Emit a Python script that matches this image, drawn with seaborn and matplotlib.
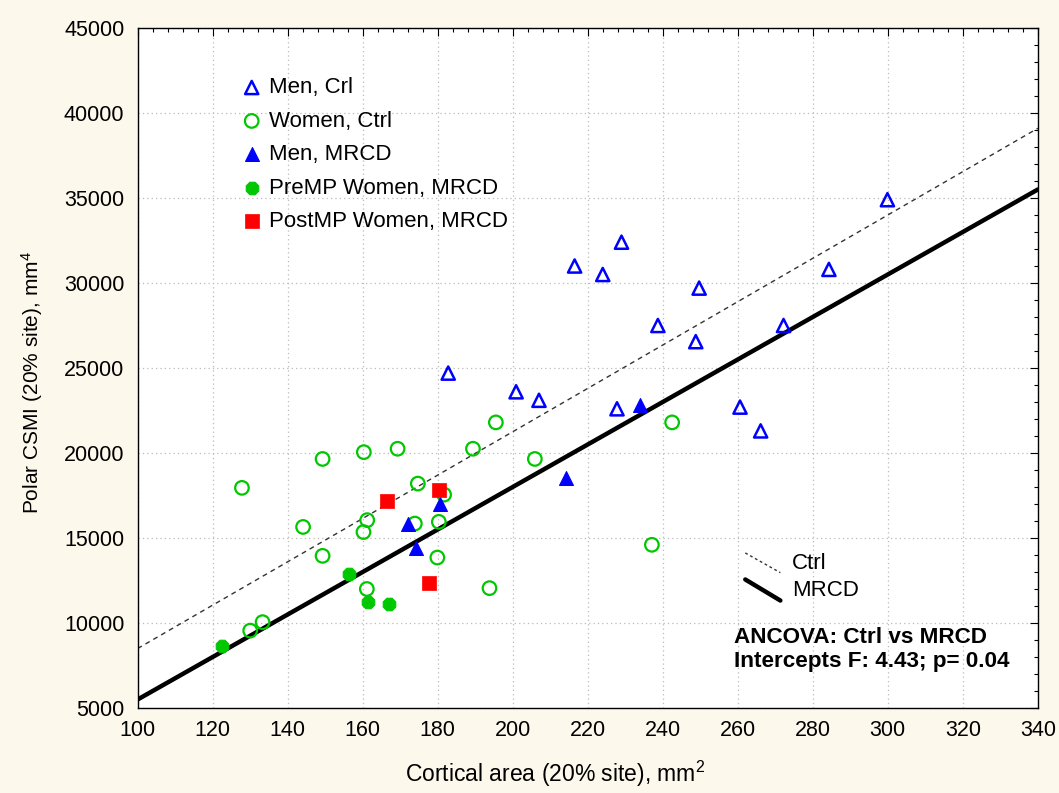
import numpy as np
import pandas as pd
import matplotlib
matplotlib.use("Agg")
import matplotlib.pyplot as plt
from matplotlib.ticker import MultipleLocator
import seaborn as sns

# ---- data ----
men_ctrl_x = [182.8, 200.9, 207.0, 227.8, 229.0, 216.5, 224.0, 249.7, 238.7, 248.8,
              299.9, 284.3, 272.2, 260.6, 266.1]
men_ctrl_y = [24700, 23600, 23100, 22600, 32400, 31000, 30500, 29700, 27500, 26550,
              34900, 30800, 27500, 22700, 21300]

women_ctrl_x = [127.8, 149.3, 144.1, 149.3, 130.0, 133.3, 160.3, 169.3, 189.4, 195.5,
                174.7, 181.7, 161.2, 160.2, 173.9, 180.3, 179.9, 193.8, 161.1, 205.9,
                242.5, 237.1]
women_ctrl_y = [17950, 19650, 15650, 13950, 9550, 10050, 20050, 20250, 20250, 21800,
                18200, 17550, 16050, 15350, 15850, 15950, 13850, 12050, 12000, 19650,
                21800, 14600]

men_mrcd_x = [180.5, 172.2, 174.1, 214.3, 234.0]
men_mrcd_y = [17000, 15800, 14400, 18550, 22800]

premp_mrcd_x = [122.6, 156.3, 161.5, 167.0]
premp_mrcd_y = [8650, 12900, 11250, 11100]

postmp_mrcd_x = [166.4, 180.3, 177.7]
postmp_mrcd_y = [17200, 17850, 12350]

# regression lines (intercept at x = 0, slope per mm^2)
line_names = ["Ctrl", "MRCD"]
line_intercepts = [-4250.0, -7000.0]
line_slopes = [127.5, 125.0]

x_ticks = list(range(100, 341, 20))
y_ticks = list(range(5000, 45001, 5000))

BLUE = "#0000FF"
GREEN = "#00C800"
RED = "#FF0000"
BG = "#FDF8EC"

sns.set_theme(style="white")
plt.rcParams["font.family"] = ["Liberation Sans", "DejaVu Sans"]
plt.rcParams["mathtext.default"] = "regular"
for key in ("text.color", "axes.labelcolor", "xtick.color", "ytick.color"):
    plt.rcParams[key] = "black"

fig = plt.figure(figsize=(10.59, 7.93), dpi=100, facecolor=BG)
ax = fig.add_axes([0.130, 0.1072, 0.850, 0.8575])
ax.set_facecolor("white")

# regression lines
xs = np.array([x_ticks[0], x_ticks[-1]], dtype=float)
styles = {"Ctrl": dict(color="#333333", lw=1.0, linestyle=(0, (3.5, 3))),
          "MRCD": dict(color="black", lw=3.2, linestyle="-")}
for name, b0, b1 in zip(line_names, line_intercepts, line_slopes):
    sns.lineplot(x=xs, y=b0 + b1 * xs, ax=ax, zorder=2, legend=False, **styles[name])

# scatter groups
groups = [
    ("Men, Crl", men_ctrl_x, men_ctrl_y, "^", dict(facecolor="none", edgecolor=BLUE, linewidth=1.8), 90),
    ("Women, Ctrl", women_ctrl_x, women_ctrl_y, "o", dict(facecolor="none", edgecolor=GREEN, linewidth=1.6), 95),
    ("Men, MRCD", men_mrcd_x, men_mrcd_y, "^", dict(facecolor=BLUE, edgecolor=BLUE, linewidth=0.8), 100),
    ("PreMP Women, MRCD", premp_mrcd_x, premp_mrcd_y, "8", dict(facecolor=GREEN, edgecolor=GREEN, linewidth=0.8), 95),
    ("PostMP Women, MRCD", postmp_mrcd_x, postmp_mrcd_y, "s", dict(facecolor=RED, edgecolor=RED, linewidth=0.5), 115),
]
for label, gx, gy, mk, kw, size in groups:
    sns.scatterplot(x=gx, y=gy, marker=mk, s=size, ax=ax, label=label,
                    zorder=3, legend=False, **kw)

ax.set_xlim(x_ticks[0], x_ticks[-1])
ax.set_ylim(y_ticks[0], y_ticks[-1])
ax.set_xticks(x_ticks)
ax.set_yticks(y_ticks)
ax.xaxis.set_minor_locator(MultipleLocator(4))
ax.yaxis.set_minor_locator(MultipleLocator(1000))
ax.tick_params(which="both", direction="in", top=True, right=True,
               colors="black", width=0.8)
ax.tick_params(which="major", length=6, labelsize=15.5)
ax.tick_params(axis="y", which="major", pad=9.5)
ax.tick_params(axis="x", which="major", pad=8.5)
ax.tick_params(which="minor", length=3)
ax.grid(True, which="major", color="#BBBBBB", linestyle=(0, (1, 2.5)), linewidth=0.9)
ax.set_axisbelow(True)
for sp in ax.spines.values():
    sp.set_color("black")
    sp.set_linewidth(1.0)
    sp.set_visible(True)

ax.set_xlabel("Cortical area (20% site), mm$^{2}$", fontsize=16.5)
ax.set_ylabel("Polar CSMI (20% site), mm$^{4}$", fontsize=15)
ax.xaxis.set_label_coords(0.4637, -0.075)
ax.yaxis.set_label_coords(-0.103, 0.478)

leg = ax.legend(loc="upper left", bbox_to_anchor=(0.102, 0.9405), frameon=False,
                fontsize=16, handletextpad=0.2, labelspacing=0.56,
                handlelength=1.2, borderaxespad=0, borderpad=0.4)

# line key
ax.plot([0.675, 0.714], [0.228, 0.199], transform=ax.transAxes,
        color="#333333", lw=1.0, linestyle=(0, (2, 2)))
ax.plot([0.675, 0.714], [0.189, 0.158], transform=ax.transAxes,
        color="black", lw=3.2, solid_capstyle="round")
ax.text(0.727, 0.213, "Ctrl", transform=ax.transAxes, fontsize=16, va="center")
ax.text(0.727, 0.173, "MRCD", transform=ax.transAxes, fontsize=16, va="center")

ax.text(0.662, 0.104, "ANCOVA: Ctrl vs MRCD", transform=ax.transAxes,
        fontsize=16.2, fontweight="bold", va="center")
ax.text(0.662, 0.068, "Intercepts F: 4.43; p= 0.04", transform=ax.transAxes,
        fontsize=16.2, fontweight="bold", va="center")

fig.savefig("out.png", dpi=100, facecolor=BG)
